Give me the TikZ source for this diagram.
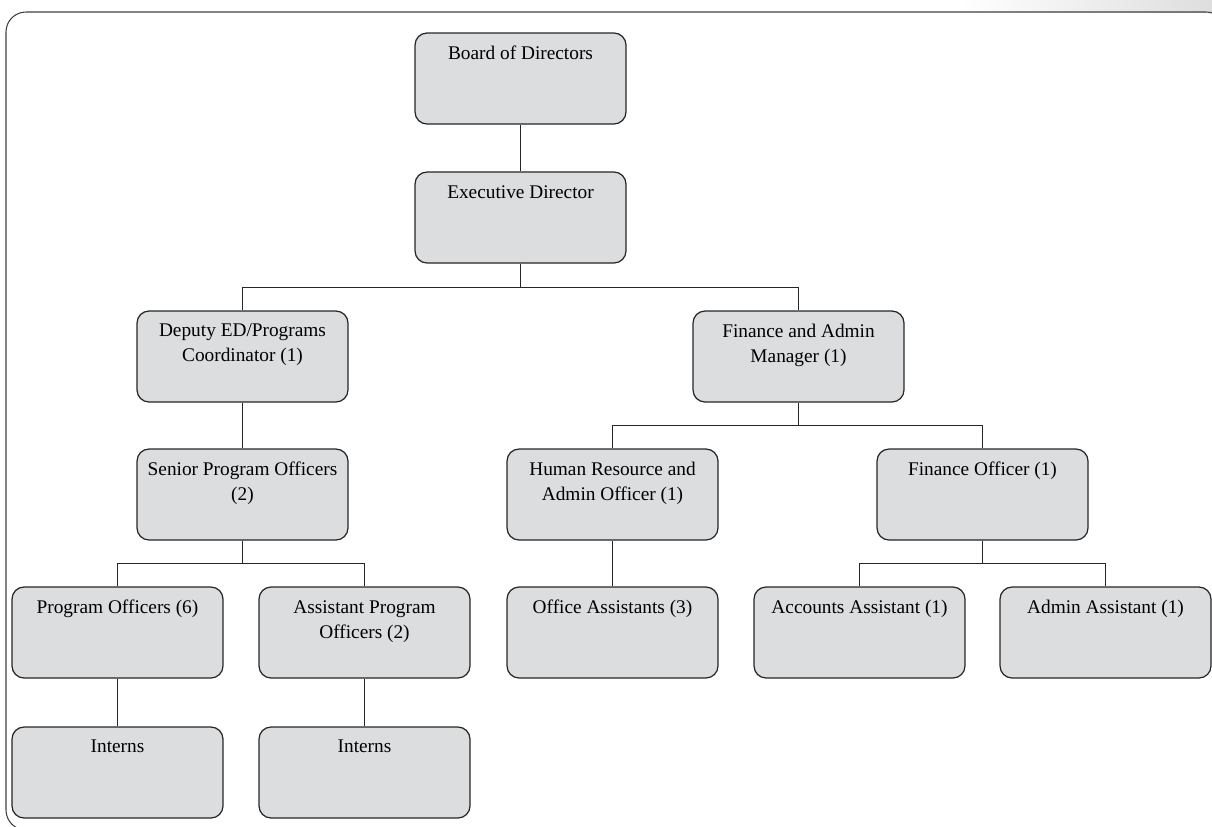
\documentclass[tikz,border=0pt]{standalone}
\usepackage{fontspec}
\setmainfont{Liberation Serif}
\usepackage{tikz}
\usetikzlibrary{positioning}
\usepackage{xcolor}
\definecolor{boxgray}{RGB}{220,221,223}

\begin{document}
\begin{tikzpicture}[
  x=0.02cm, y=-0.02cm,
  unit/.style={rectangle, draw=black!85, line width=0.7pt, fill=boxgray,
               rounded corners=0.24cm, minimum width=4.22cm,
               minimum height=1.82cm, inner sep=0pt},
  lbl/.style={anchor=north, align=center, inner sep=0pt, yshift=-0.27cm,
              font=\fontsize{11}{14.2}\selectfont},
  link/.style={draw=black!85, line width=0.7pt}
]
  \useasboundingbox (0,0) rectangle (1212,826);
  % background and frame
  \shade[left color=white, right color=black!13] (960,0) rectangle (1212,12);
  \draw[black!75, line width=0.6pt, rounded corners=0.4cm]
        (6,12) rectangle (1226,830);

  % units
  \node[unit] (bod) at (520.5,78.5)  {};
  \node[unit] (ed)  at (520.5,217.5) {};
  \node[unit] (dep) at (242.5,356.5) {};
  \node[unit] (fam) at (798.5,356.5) {};
  \node[unit] (spo) at (242.5,494.5) {};
  \node[unit] (hr)  at (612.5,494.5) {};
  \node[unit] (fo)  at (982.5,494.5) {};
  \node[unit] (po)  at (117.5,632.5) {};
  \node[unit] (apo) at (364.5,632.5) {};
  \node[unit] (oa)  at (612.5,632.5) {};
  \node[unit] (aa)  at (859.5,632.5) {};
  \node[unit] (ad)  at (1105.5,632.5) {};
  \node[unit] (in1) at (117.5,772.5) {};
  \node[unit] (in2) at (364.5,772.5) {};

  % texts
  \node[lbl] (bod-t) at (bod.north) {Board of Directors};
  \node[lbl] (ed-t)  at (ed.north)  {Executive Director};
  \node[lbl] (dep-t) at (dep.north) {Deputy ED/Programs\\Coordinator (1)};
  \node[lbl] (fam-t) at (fam.north) {Finance and Admin\\Manager (1)};
  \node[lbl] (spo-t) at (spo.north) {Senior Program Officers\\(2)};
  \node[lbl] (hr-t)  at (hr.north)  {Human Resource and\\Admin Officer (1)};
  \node[lbl] (fo-t)  at (fo.north)  {Finance Officer (1)};
  \node[lbl] (po-t)  at (po.north)  {Program Officers (6)};
  \node[lbl] (apo-t) at (apo.north) {Assistant Program\\Officers (2)};
  \node[lbl] (oa-t)  at (oa.north)  {Office Assistants (3)};
  \node[lbl] (aa-t)  at (aa.north)  {Accounts Assistant (1)};
  \node[lbl] (ad-t)  at (ad.north)  {Admin Assistant (1)};
  \node[lbl] (in1-t) at (in1.north) {Interns};
  \node[lbl] (in2-t) at (in2.north) {Interns};

  % links
  \draw[link] (bod) -- (ed);
  \draw[link] (ed.south) -- +(0,24) -| (dep.north);
  \draw[link] (ed.south) -- +(0,24) -| (fam.north);
  \draw[link] (dep) -- (spo);
  \draw[link] (spo.south) -- +(0,23) -| (po.north);
  \draw[link] (spo.south) -- +(0,23) -| (apo.north);
  \draw[link] (fam.south) -- +(0,23) -| (hr.north);
  \draw[link] (fam.south) -- +(0,23) -| (fo.north);
  \draw[link] (hr) -- (oa);
  \draw[link] (fo.south) -- +(0,23) -| (aa.north);
  \draw[link] (fo.south) -- +(0,23) -| (ad.north);
  \draw[link] (po) -- (in1);
  \draw[link] (apo) -- (in2);
\end{tikzpicture}
\end{document}
